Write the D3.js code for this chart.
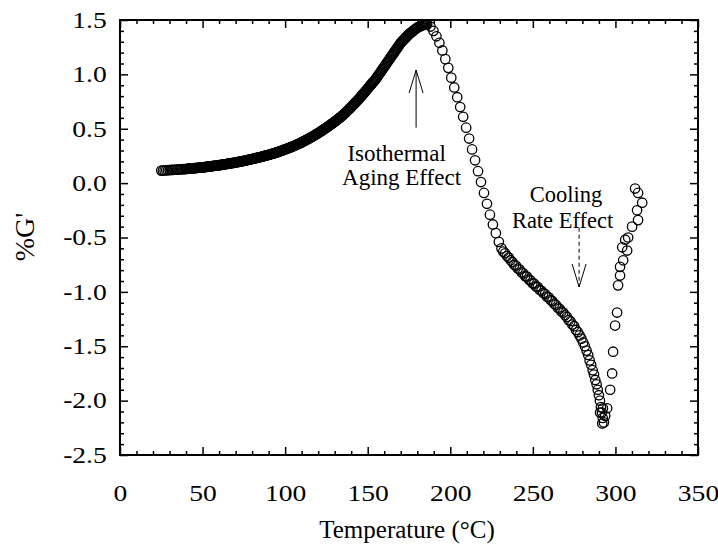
<!DOCTYPE html>
<html><head><meta charset="utf-8">
<script src="https://cdn.jsdelivr.net/npm/d3@7"></script>
<style>
body{margin:0;background:#fff}
svg{display:block}
text{font-family:"Liberation Serif","Times New Roman",serif;fill:#000}
</style>
</head><body>
<svg id="chart" width="718" height="546"></svg>
<script>
// ---- data ----
const riseT = [25,26,27,28,29,30,31,32,33,34,35,36,37,38,39,40,41,42,43,44,45,46,47,48,49,50,
 51,52,53,54,55,56,57,58,59,60,61,62,63,64,65,66,67,68,69,70,71,72,73,74,75,76,77,78,79,80,
 81,82,83,84,85,86,87,88,89,90,91,92,93,94,95,96,97,98,99,100,101,102,103,104,105,106,107,108,109,110,
 111,112,113,114,115,116,117,118,119,120,121,122,123,124,125,126,127,128,129,130,131,132,133,134,135,
 136,137,138,139,140,141,142,143,144,145,146,147,148,149,150,151,152,153,154,155,156,157,158,159,160,
 161,162,163,164,165,166,167,168,169,170,171,172,173,174,175,176,177,178,179,180,181,182,183,184,185,186];
const riseG = [.115,.116,.117,.118,.119,.120,.121,.122,.123,.124,.125,.126,.127,.128,.129,.130,.132,.133,.135,.136,.138,.139,.141,.142,.144,.145,
 .147,.149,.151,.153,.155,.157,.159,.161,.163,.165,.167,.170,.172,.175,.177,.180,.182,.185,.187,.190,.193,.196,.199,.202,.205,.208,.212,.215,.219,.222,
 .226,.229,.233,.236,.240,.244,.248,.252,.256,.260,.265,.269,.274,.278,.283,.288,.294,.299,.305,.310,.316,.322,.328,.334,.340,.347,.354,.361,.368,.375,
 .383,.391,.399,.407,.415,.424,.433,.442,.451,.460,.470,.480,.490,.500,.510,.521,.532,.543,.554,.565,.577,.589,.601,.613,.625,
 .640,.655,.670,.685,.700,.716,.732,.748,.764,.780,.798,.816,.834,.852,.870,.888,.906,.924,.942,.960,.982,1.004,1.026,1.048,1.070,
 1.092,1.114,1.136,1.158,1.180,1.202,1.224,1.246,1.268,1.290,1.306,1.322,1.338,1.354,1.370,1.382,1.394,1.406,1.418,1.430,1.438,1.445,1.451,1.456,1.459,1.460];

// second, interleaved run of the dense heating band
const rise2T = [40.5,41.5,42.5,43.5,44.5,45.5,46.5,47.5,48.5,49.5,50.5,51.5,52.5,53.5,54.5,55.5,56.5,57.5,58.5,59.5,
 60.5,61.5,62.5,63.5,64.5,65.5,66.5,67.5,68.5,69.5,70.5,71.5,72.5,73.5,74.5,75.5,76.5,77.5,78.5,79.5,
 80.5,81.5,82.5,83.5,84.5,85.5,86.5,87.5,88.5,89.5,90.5,91.5,92.5,93.5,94.5,95.5,96.5,97.5,98.5,99.5,
 100.5,101.5,102.5,103.5,104.5,105.5,106.5,107.5,108.5,109.5,110.5,111.5,112.5,113.5,114.5,115.5,116.5,117.5,118.5,119.5,
 120.5,121.5,122.5,123.5,124.5,125.5,126.5,127.5,128.5,129.5,130.5,131.5,132.5,133.5,134.5,135.5,136.5,137.5,138.5,139.5,
 140.5,141.5,142.5,143.5,144.5,145.5,146.5,147.5,148.5,149.5,150.5,151.5,152.5,153.5,154.5,155.5,156.5,157.5,158.5,159.5,
 160.5,161.5,162.5,163.5,164.5,165.5,166.5,167.5,168.5,169.5,170.5,171.5,172.5,173.5,174.5,175.5,176.5,177.5,178.5,179.5,
 180.5,181.5,182.5,183.5,184.5,185.5];
const rise2G = [.131,.1325,.134,.1355,.137,.1385,.140,.1415,.143,.1445,.146,.148,.150,.152,.154,.156,.158,.160,.162,.164,
 .166,.1685,.171,.1735,.176,.1785,.181,.1835,.186,.1885,.1915,.1945,.1975,.2005,.2035,.2065,.210,.2135,.217,.2205,
 .224,.2275,.231,.2345,.238,.242,.246,.250,.254,.258,.2625,.267,.2715,.276,.2805,.2855,.291,.2965,.302,.3075,
 .313,.319,.325,.331,.337,.3435,.3505,.3575,.3645,.3715,.379,.387,.395,.403,.411,.4195,.4285,.4375,.4465,.4555,
 .465,.475,.485,.495,.505,.5155,.5265,.5375,.5485,.5595,.571,.583,.595,.607,.619,.6325,.6475,.6625,.6775,.6925,
 .708,.724,.740,.756,.772,.789,.807,.825,.843,.861,.879,.897,.915,.933,.951,.971,.993,1.015,1.037,1.059,
 1.081,1.103,1.125,1.147,1.169,1.191,1.213,1.235,1.257,1.279,1.298,1.314,1.330,1.346,1.362,1.376,1.388,1.400,1.412,1.424,
 1.434,1.4415,1.448,1.4535,1.4575,1.4595];

const fallT = [188,189.8,191.6,193.4,195.2,197,198.8,200.6,202.4,204.2,206,207.8,209.6,211.4,213.2,215,216.8,218.6,220.4,222.2,224,225.8,227.6,229.4];
const fallG = [1.44,1.40,1.35,1.29,1.22,1.14,1.06,0.97,0.88,0.79,0.70,0.61,0.51,0.41,0.31,0.21,0.11,0.01,-0.09,-0.19,-0.29,-0.38,-0.46,-0.54];

const slowT = [231,232.1,233.2,234.3,235.4,236.5,237.6,238.7,239.8,240.9,242,243.1,244.2,245.3,246.4,247.5,248.6,249.7,250.8,251.9,253,254.1,255.2,256.3,257.4,258.5,259.6,260.7,261.8,262.9,264,265.1,266.2,267.3,268.4,269.5,270.6,271.7,272.8,273.9,275,276.1,277.2,278.3,279.4,280.5,281.5,282.5,283.5,284.4,285.3,286.2,287,287.8,288.6,289.3,290,290.6,291.2,291.8,292.3,293,292,290.7,292.4];
const slowG = [-0.60,-0.63,-0.645,-0.67,-0.685,-0.71,-0.725,-0.75,-0.76,-0.785,-0.795,-0.82,-0.83,-0.855,-0.86,-0.885,-0.895,-0.92,-0.925,-0.95,-0.955,-0.98,-0.99,-1.01,-1.02,-1.045,-1.05,-1.075,-1.085,-1.11,-1.12,-1.145,-1.155,-1.18,-1.19,-1.215,-1.23,-1.26,-1.27,-1.30,-1.315,-1.35,-1.37,-1.40,-1.43,-1.465,-1.50,-1.54,-1.58,-1.63,-1.67,-1.72,-1.76,-1.81,-1.85,-1.90,-1.95,-2.00,-2.06,-2.11,-2.16,-2.20,-2.21,-2.11,-2.07];

const tailT = [293.8,295,296.8,298,298.6,299.8,301,301.6,302.8,302.8,304.1,304.7,305.9,307.1,307.7,310.1,313.1,313.7,316.2,313.7,311.9];
const tailG = [-2.14,-2.07,-1.90,-1.75,-1.55,-1.31,-1.19,-0.94,-0.85,-0.77,-0.59,-0.71,-0.52,-0.62,-0.50,-0.40,-0.25,-0.34,-0.18,-0.09,-0.05];

const xTicks = [0,50,100,150,200,250,300,350];
const yTicks = [-2.5,-2.0,-1.5,-1.0,-0.5,0.0,0.5,1.0,1.5];
const xMinor = [10,20,30,40,60,70,80,90,110,120,130,140,160,170,180,190,210,220,230,240,260,270,280,290,310,320,330,340];
const yMinor = [-2.4,-2.3,-2.2,-2.1,-1.9,-1.8,-1.7,-1.6,-1.4,-1.3,-1.2,-1.1,-0.9,-0.8,-0.7,-0.6,-0.4,-0.3,-0.2,-0.1,0.1,0.2,0.3,0.4,0.6,0.7,0.8,0.9,1.1,1.2,1.3,1.4];

const xTitle = "Temperature (°C)";
const yTitle = "%G'";

// ---- chart ----
const svg = d3.select("#chart");
const L=120, R=698, T=20, B=455;
const x = d3.scaleLinear().domain([0,350]).range([L,R]);
const y = d3.scaleLinear().domain([-2.5,1.5]).range([B,T]);

function styleAxis(g){
  g.select(".domain").remove();
  g.selectAll(".tick line").attr("stroke","#000").attr("stroke-width",1.5);
}
const fmt = d => d3.format(".1f")(d).replace("\u2212","-");

// bottom
svg.append("g").attr("transform",`translate(0,${B})`)
  .call(d3.axisBottom(x).tickValues(xTicks).tickSizeInner(-8).tickSizeOuter(0).tickPadding(30).tickFormat(d3.format("d")))
  .call(styleAxis)
  .call(g=>g.selectAll("text").attr("font-size",23).attr("font-family","Liberation Serif").attr("transform","scale(1.2,1)"));
svg.append("g").attr("transform",`translate(0,${B})`)
  .call(d3.axisBottom(x).tickValues(xMinor).tickSizeInner(-4).tickSizeOuter(0).tickFormat(""))
  .call(styleAxis);
// top
svg.append("g").attr("transform",`translate(0,${T})`)
  .call(d3.axisTop(x).tickValues(xTicks).tickSizeInner(-8).tickSizeOuter(0).tickFormat(""))
  .call(styleAxis);
svg.append("g").attr("transform",`translate(0,${T})`)
  .call(d3.axisTop(x).tickValues(xMinor).tickSizeInner(-4).tickSizeOuter(0).tickFormat(""))
  .call(styleAxis);
// left
svg.append("g").attr("transform",`translate(${L},0)`)
  .call(d3.axisLeft(y).tickValues(yTicks).tickSizeInner(-8).tickSizeOuter(0).tickPadding(11).tickFormat(fmt))
  .call(styleAxis)
  .call(g=>g.selectAll("text").attr("font-size",23).attr("font-family","Liberation Serif").attr("transform","scale(1.2,1)"));
svg.append("g").attr("transform",`translate(${L},0)`)
  .call(d3.axisLeft(y).tickValues(yMinor).tickSizeInner(-4).tickSizeOuter(0).tickFormat(""))
  .call(styleAxis);
// right
svg.append("g").attr("transform",`translate(${R},0)`)
  .call(d3.axisRight(y).tickValues(yTicks).tickSizeInner(-8).tickSizeOuter(0).tickFormat(""))
  .call(styleAxis);
svg.append("g").attr("transform",`translate(${R},0)`)
  .call(d3.axisRight(y).tickValues(yMinor).tickSizeInner(-4).tickSizeOuter(0).tickFormat(""))
  .call(styleAxis);

// frame
svg.append("rect").attr("x",L).attr("y",T).attr("width",R-L).attr("height",B-T)
  .attr("fill","none").attr("stroke","#000").attr("stroke-width",2);

// points
const pts = [];
[[riseT,riseG],[rise2T,rise2G],[fallT,fallG],[slowT,slowG],[tailT,tailG]].forEach(([ts,gs])=>{
  ts.forEach((t,i)=>pts.push({t, g:gs[i]}));
});
svg.append("g").selectAll("circle").data(pts).join("circle")
  .attr("cx",d=>x(d.t)).attr("cy",d=>y(d.g)).attr("r",4.7)
  .attr("fill","none").attr("stroke","#000").attr("stroke-width",1.3);

// titles
svg.append("text").attr("x",407).attr("y",538).attr("text-anchor","middle")
  .attr("font-size",25).text(xTitle);
svg.append("text").attr("transform","translate(34,237) rotate(-90)").attr("text-anchor","middle")
  .attr("font-size",28).text(yTitle);

// annotations (anchored in data units)
function arrow(t, gFrom, gTo, dashed){
  const g = svg.append("g").attr("stroke","#000").attr("stroke-width",1).attr("fill","none");
  const xp = x(t), y0 = y(gFrom), y1 = y(gTo);
  g.append("line").attr("x1",xp).attr("x2",xp).attr("y1",y0).attr("y2",y1)
    .attr("stroke-dasharray", dashed ? "4,3" : null);
  const dir = y1 < y0 ? 1 : -1;
  g.append("path").attr("d", d3.line()([[xp-7, y1+dir*23],[xp,y1],[xp+7,y1+dir*23]]));
}
arrow(179.3, 0.51, 1.04, false);
arrow(278, -0.41, -0.955, true);

svg.append("text").attr("x",x(167.5)).attr("y",y(0.20)).attr("text-anchor","middle").attr("font-size",23).text("Isothermal");
svg.append("text").attr("x",x(170.5)).attr("y",y(-0.02)).attr("text-anchor","middle").attr("font-size",23).text("Aging Effect");
svg.append("text").attr("x",x(270)).attr("y",y(-0.17)).attr("text-anchor","middle").attr("font-size",22.5).text("Cooling");
svg.append("text").attr("x",x(268)).attr("y",y(-0.41)).attr("text-anchor","middle").attr("font-size",22.5).text("Rate Effect");
</script>
</body></html>
